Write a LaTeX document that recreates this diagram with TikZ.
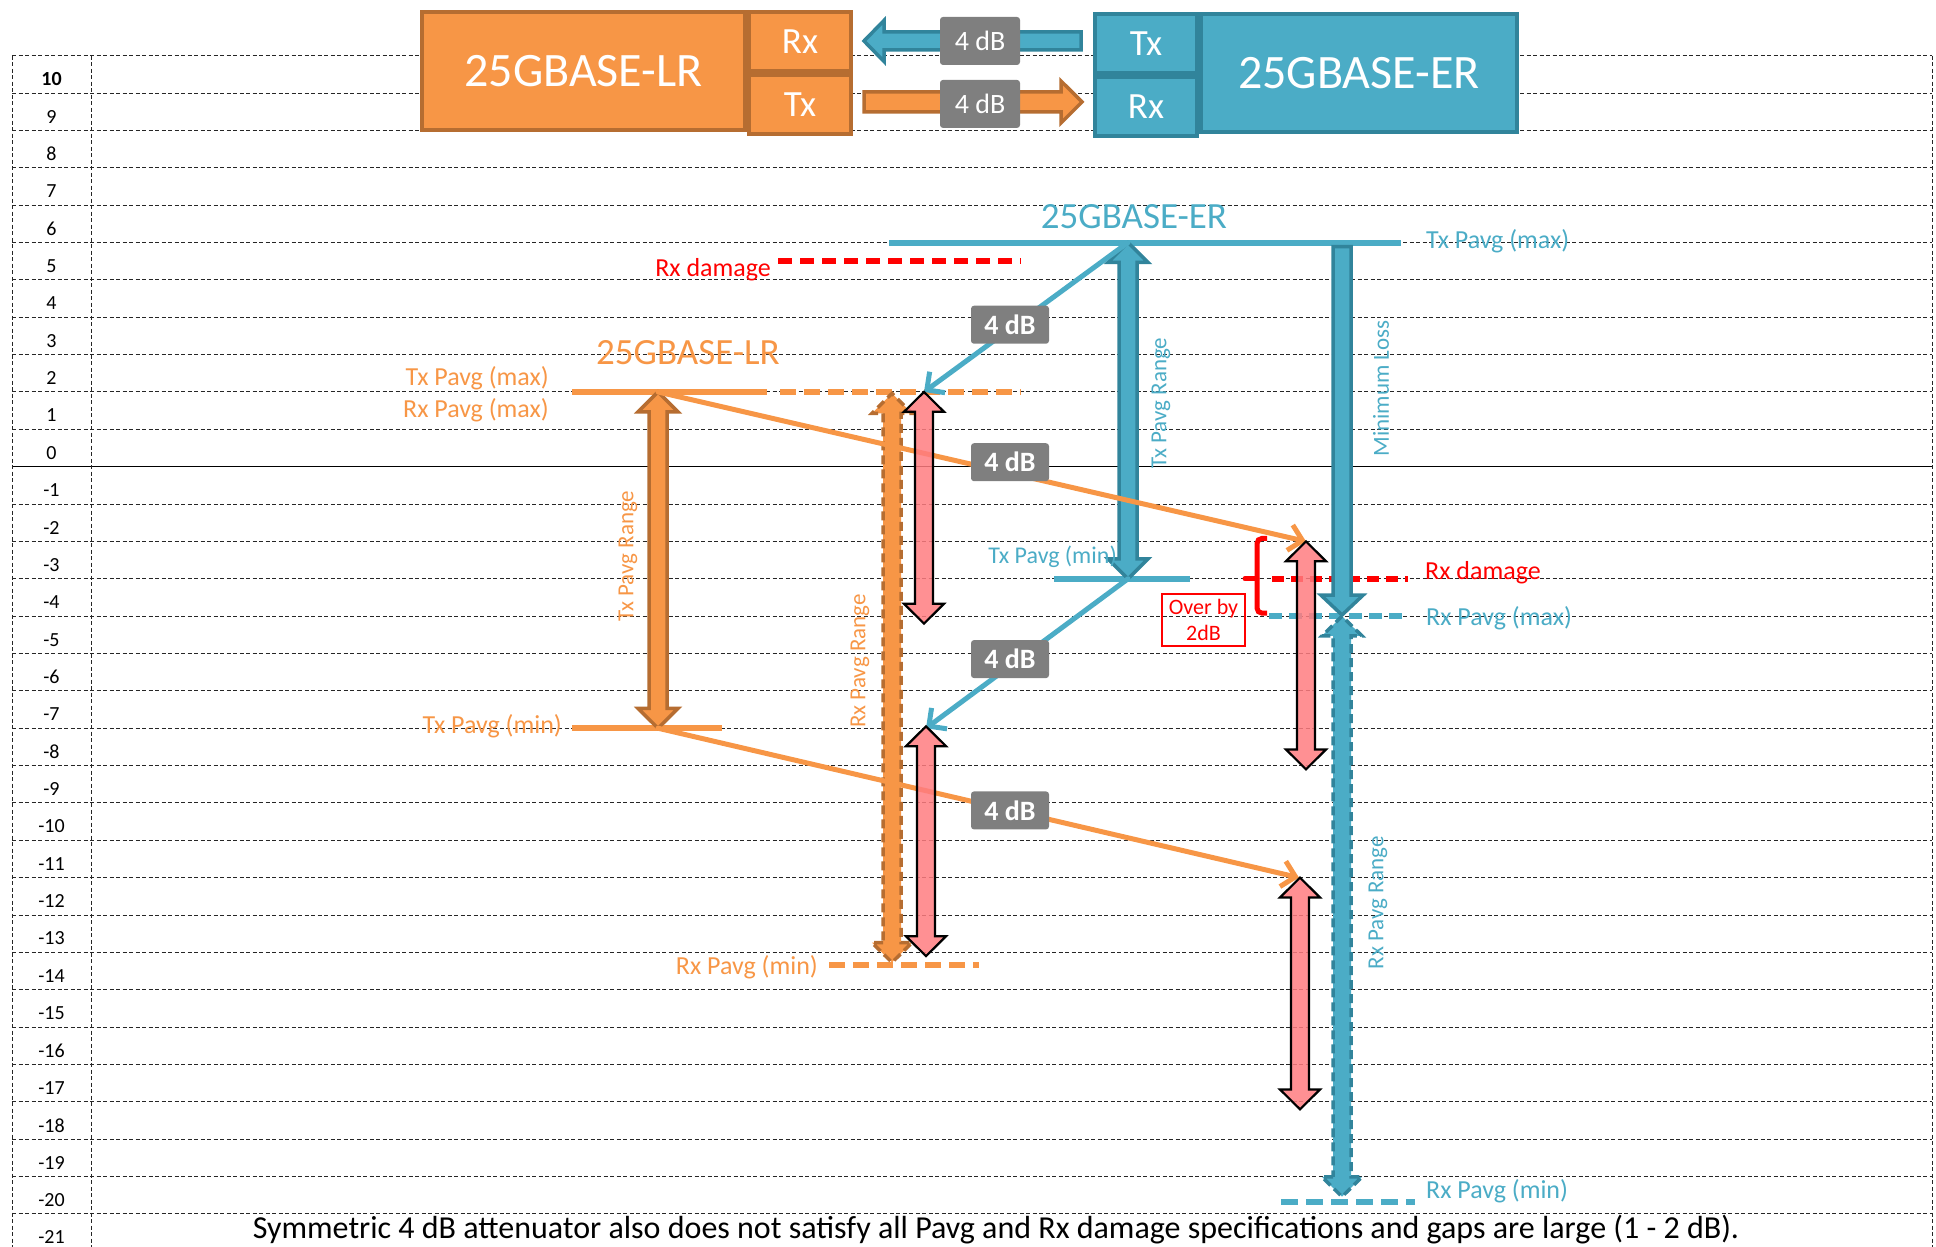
\documentclass[tikz,border=0pt]{standalone}
\usepackage{fontspec}
\setmainfont{Carlito}
\usepackage{xcolor}
\usetikzlibrary{arrows.meta}
\usetikzlibrary{positioning}

\definecolor{lrorange}{HTML}{F79646}
\definecolor{lrdark}{HTML}{B66D31}
\definecolor{erteal}{HTML}{4BACC6}
\definecolor{erdark}{HTML}{31849B}
\definecolor{dbgray}{HTML}{7F7F7F}
\definecolor{gappink}{HTML}{FF7C80}

% vertical block arrows, x in pt and levels in dB
\newcommand{\shaftw}{9}
\newcommand{\headw}{20}
\newcommand{\headl}{0.53}
\newcommand{\rangearrow}[4]{% style, x, lower tip, upper tip
  \draw[#1] (#2-\shaftw,#3+\headl) -- (#2-\headw,#3+\headl) -- (#2,#3)
    -- (#2+\headw,#3+\headl) -- (#2+\shaftw,#3+\headl) -- (#2+\shaftw,#4-\headl)
    -- (#2+\headw,#4-\headl) -- (#2,#4) -- (#2-\headw,#4-\headl)
    -- (#2-\shaftw,#4-\headl) -- cycle;}
\newcommand{\lossarrow}[4]{% style, x, lower tip, flat top
  \draw[#1] (#2-\shaftw,#4) -- (#2+\shaftw,#4) -- (#2+\shaftw,#3+\headl)
    -- (#2+\headw+1,#3+\headl) -- (#2,#3) -- (#2-\headw-1,#3+\headl)
    -- (#2-\shaftw,#3+\headl) -- cycle;}

\begin{document}
\begin{tikzpicture}[x=1pt, y=37.36pt]
    \tikzstyle{grid}=[black!85, line width=1pt, dash pattern=on 4pt off 2.5pt]
    \tikzstyle{tick}=[inner sep=0pt, font=\fontsize{20}{20}\selectfont]
    \tikzstyle{lrbox}=[draw=lrdark, fill=lrorange, line width=4pt, text=white, inner sep=0pt]
    \tikzstyle{erbox}=[draw=erdark, fill=erteal, line width=4pt, text=white, inner sep=0pt]
    \tikzstyle{cell}=[minimum width=102pt, minimum height=59pt, font=\fontsize{37}{37}\selectfont]
    \tikzstyle{attbig}=[fill=dbgray, text=white, rounded corners=3pt, minimum width=80pt, minimum height=48pt, inner sep=0pt, font=\fontsize{28}{28}\selectfont]
    \tikzstyle{att}=[fill=dbgray, text=white, rounded corners=3pt, minimum width=78pt, minimum height=38pt, inner sep=0pt, font=\bfseries\fontsize{28}{28}\selectfont]
    \tikzstyle{lrlevel}=[lrorange, line width=6pt]
    \tikzstyle{erlevel}=[erteal, line width=6pt]
    \tikzstyle{dmglevel}=[red, line width=6pt, dash pattern=on 14pt off 8pt]
    \tikzstyle{lrline}=[lrorange, line width=5pt, line cap=round, -{Straight Barb[length=13pt,width=26pt]}]
    \tikzstyle{erline}=[erteal, line width=5pt, line cap=round, -{Straight Barb[length=13pt,width=26pt]}]
    \tikzstyle{lrrange}=[draw=lrdark, fill=lrorange, line width=3.5pt, line join=miter]
    \tikzstyle{errange}=[draw=erdark, fill=erteal, line width=3.5pt, line join=miter]
    \tikzstyle{gap}=[draw=black, fill=gappink, fill opacity=0.85, line width=2.2pt, line join=miter]
    \tikzstyle{lbl}=[inner sep=0pt, font=\fontsize{26}{26}\selectfont]
    \tikzstyle{side}=[inner sep=0pt, rotate=90, font=\fontsize{23}{23}\selectfont]
    \useasboundingbox (0,-20.886) rectangle (1936,12.492);

    % grid and dB scale
    \foreach \v in {-20,...,11}{
      \ifnum\v=0 \draw[black, line width=1.6pt] (12,\v) -- (1932,\v);
      \else \draw[grid] (12,\v) -- (1932,\v); \fi
    }
    \foreach \x in {12,91,1932} \draw[grid] (\x,11) -- (\x,-20.95);
    \node[tick, font=\bfseries\fontsize{20}{20}\selectfont] (tick10) at (51.5,10.37) {10};
    \foreach \v in {9,8,...,-21} \node[tick] (tick\v) at (51.5,\v+0.37) {\v};

    % link at the top
    \node[lrbox, minimum width=323pt, minimum height=118pt, font=\fontsize{48}{48}\selectfont] (lrmain) at (583.5,10.59) {25GBASE-LR};
    \node[lrbox, cell, anchor=north west] (lrrx) at (lrmain.north east) {Rx};
    \node[lrbox, cell, anchor=north west] (lrtx) at (lrrx.south west) {Tx};
    \node[erbox, cell, anchor=north west] (ertx) at (1093,12.17) {Tx};
    \node[erbox, cell, anchor=north west] (errx) at (ertx.south west) {Rx};
    \node[erbox, minimum width=316pt, minimum height=118pt, anchor=north west, font=\fontsize{48}{48}\selectfont] (ermain) at (ertx.north east) {25GBASE-ER};
    \draw[errange] (1081,11.636) -- (884,11.636) -- (884,11.944) -- (864,11.395)
      -- (884,10.846) -- (884,11.154) -- (1081,11.154) -- cycle;
    \draw[lrrange] (864,10.030) -- (1061,10.030) -- (1061,10.324) -- (1082,9.762)
      -- (1061,9.200) -- (1061,9.494) -- (864,9.494) -- cycle;
    \node[attbig] (atttop) at (980,11.395) {4 dB};
    \node[attbig] (attbot) at (980,9.71) {4 dB};

    % power levels
    \coordinate (lrTxMax) at (658,2);
    \coordinate (lrTxMin) at (658,-7);
    \coordinate (erTxMax) at (1128,6);
    \coordinate (erTxMin) at (1128,-3);
    \coordinate (lrRxHi) at (924,2);
    \coordinate (lrRxLow) at (926,-7);
    \coordinate (erRxHi) at (1306,-2);
    \coordinate (erRxLow) at (1299,-11);
    \draw[erlevel] (889,6) -- (1401,6);
    \draw[dmglevel] (778,5.5) -- (1021,5.5);
    \draw[lrlevel] (572,2) -- (767,2);
    \draw[lrlevel, dash pattern=on 16pt off 8pt] (780,2) -- (1021,2);
    \draw[lrlevel] (572,-7) -- (722,-7);
    \draw[lrlevel, dash pattern=on 16pt off 8pt] (829,-13.35) -- (979,-13.35);
    \draw[erlevel] (1054,-3) -- (1190,-3);
    \draw[dmglevel, dash pattern=on 12pt off 7pt] (1272,-3) -- (1408,-3);
    \draw[erlevel, dash pattern=on 13pt off 7pt] (1269,-4) -- (1408,-4);
    \draw[erlevel, dash pattern=on 17pt off 8pt] (1281,-19.67) -- (1415,-19.67);

    % ranges
    \rangearrow{lrrange}{658}{-7}{2}
    \rangearrow{lrrange, dash pattern=on 9pt off 5pt}{892}{-13.27}{1.96}
    \rangearrow{errange}{1128}{-3}{6}
    \lossarrow{errange}{1342}{-3.97}{5.89}
    \rangearrow{errange, dash pattern=on 9pt off 5pt}{1342}{-19.54}{-4.0}

    % 4 dB attenuation
    \draw[lrline] (lrTxMax) -- (erRxHi);
    \draw[lrline] (lrTxMin) -- (erRxLow);
    \draw[erline] (erTxMax) -- (lrRxHi);
    \draw[erline] (erTxMin) -- (lrRxLow);
    \node[att] (att1) at (1010,3.8) {4 dB};
    \node[att] (att2) at (1010,0.12) {4 dB};
    \node[att] (att3) at (1010,-5.15) {4 dB};
    \node[att] (att4) at (1010,-9.2) {4 dB};

    % gaps
    \rangearrow{gap}{924}{-4.2}{2}
    \rangearrow{gap}{926}{-13.1}{-6.95}
    \rangearrow{gap}{1306}{-8.1}{-2}
    \rangearrow{gap}{1300}{-17.2}{-11}
    \draw[red, line width=5pt, rounded corners=5pt] (1267,-1.92) -- (1257,-1.92) -- (1257,-3.92) -- (1267,-3.92);
    \draw[red, line width=5pt, line cap=round] (1257,-3) -- (1245,-3);
    \node[draw=red, line width=1.5pt, text=red, align=center, minimum width=83pt, minimum height=52pt, inner sep=0pt, font=\fontsize{22}{26}\selectfont] (overby) at (1203.5,-4.1) {Over by\\2dB};

    % texts
    \node[lbl, text=lrorange, font=\fontsize{37}{37}\selectfont] (lrtitle) at (688,3.06) {25GBASE-LR};
    \node[lbl, text=erteal, font=\fontsize{37}{37}\selectfont] (ertitle) at (1134,6.7) {25GBASE-ER};
    \node[lbl, text=lrorange, anchor=east] (lrtxmaxlbl) at (549,2.37) {Tx Pavg (max)};
    \node[lbl, text=lrorange, anchor=east] (lrrxmaxlbl) at (549,1.52) {Rx Pavg (max)};
    \node[lbl, text=red, anchor=east] (lrdmglbl) at (771,5.28) {Rx damage};
    \node[lbl, text=lrorange, anchor=east] (lrtxminlbl) at (562,-6.95) {Tx Pavg (min)};
    \node[lbl, text=lrorange, anchor=east] (lrrxminlbl) at (818,-13.4) {Rx Pavg (min)};
    \node[lbl, text=erteal, anchor=east, font=\fontsize{24}{24}\selectfont] (ertxminlbl) at (1117,-2.4) {Tx Pavg (min)};
    \node[lbl, text=erteal, anchor=west] (ertxmaxlbl) at (1426,6.03) {Tx Pavg (max)};
    \node[lbl, text=red, anchor=west] (erdmglbl) at (1425,-2.84) {Rx damage};
    \node[lbl, text=erteal, anchor=west] (errxmaxlbl) at (1426,-4.05) {Rx Pavg (max)};
    \node[lbl, text=erteal, anchor=west] (errxminlbl) at (1426,-19.38) {Rx Pavg (min)};
    \node[side, text=lrorange] (lrtxrange) at (628,-2.4) {Tx Pavg Range};
    \node[side, text=lrorange] (lrrxrange) at (860,-5.2) {Rx Pavg Range};
    \node[side, text=erteal] (ertxrange) at (1161,1.7) {Tx Pavg Range};
    \node[side, text=erteal] (minloss) at (1381,2.1) {Minimum Loss};
    \node[side, text=erteal] (errxrange) at (1378,-11.67) {Rx Pavg Range};
    \node[inner sep=0pt, font=\fontsize{32}{32}\selectfont] (caption) at (996,-20.42) {Symmetric 4 dB attenuator also does not satisfy all Pavg and Rx damage specifications and gaps are large (1 - 2 dB).};
\end{tikzpicture}
\end{document}
